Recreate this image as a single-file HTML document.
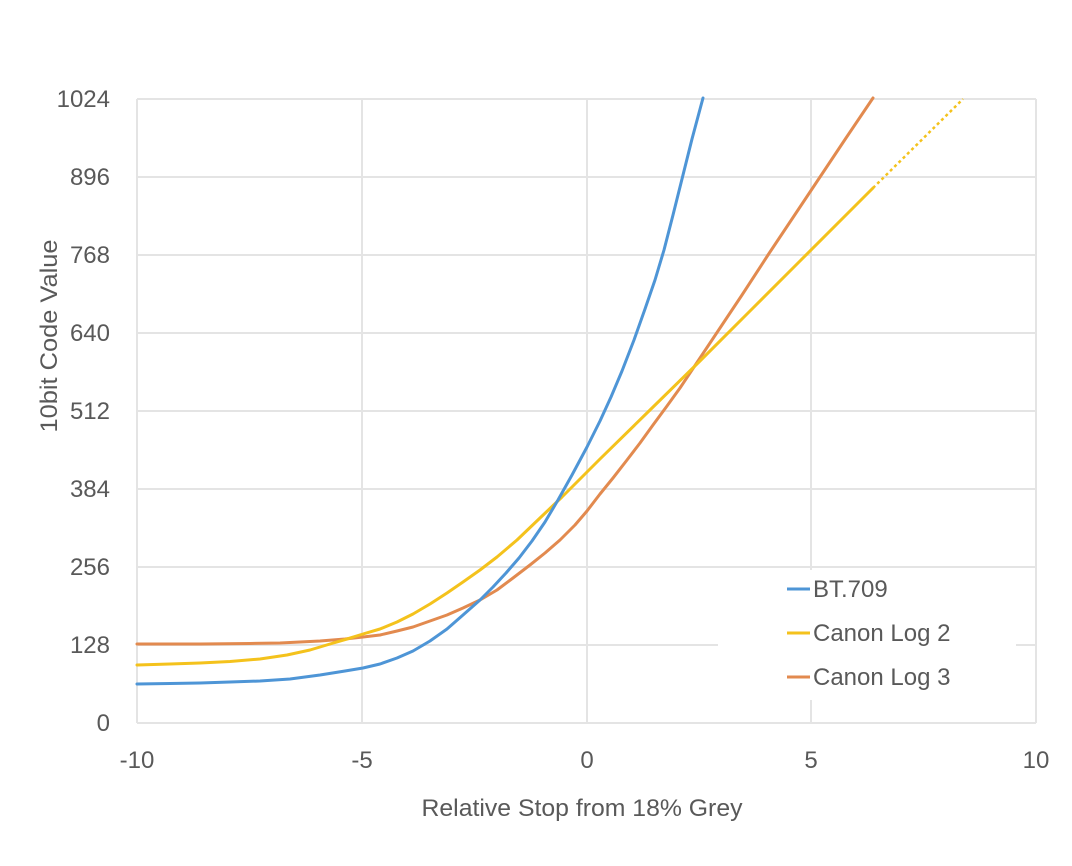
<!DOCTYPE html>
<html>
<head>
<meta charset="utf-8">
<style>
  html, body { margin: 0; padding: 0; background: #ffffff; }
  body { width: 1072px; height: 866px; overflow: hidden; }
  svg { display: block; }
  text { font-family: "Liberation Sans", "DejaVu Sans", sans-serif; fill: #595959; font-size: 24px; }
</style>
</head>
<body>
<svg width="1072" height="866" viewBox="0 0 1072 866" xmlns="http://www.w3.org/2000/svg">
  <rect x="0" y="0" width="1072" height="866" fill="#ffffff"/>

  <!-- gridlines -->
  <g stroke="#e4e4e4" stroke-width="2" fill="none">
    <line x1="137" y1="99" x2="1036" y2="99"/>
    <line x1="137" y1="177" x2="1036" y2="177"/>
    <line x1="137" y1="255" x2="1036" y2="255"/>
    <line x1="137" y1="333" x2="1036" y2="333"/>
    <line x1="137" y1="411" x2="1036" y2="411"/>
    <line x1="137" y1="489" x2="1036" y2="489"/>
    <line x1="137" y1="567" x2="1036" y2="567"/>
    <line x1="137" y1="645" x2="1036" y2="645"/>
    <line x1="137" y1="723" x2="1036" y2="723"/>
    <line x1="137" y1="99" x2="137" y2="723"/>
    <line x1="362" y1="99" x2="362" y2="723"/>
    <line x1="587" y1="99" x2="587" y2="723"/>
    <line x1="811" y1="99" x2="811" y2="723"/>
    <line x1="1036" y1="99" x2="1036" y2="723"/>
  </g>

  <!-- legend background -->
  <rect x="718" y="570" width="298" height="130" fill="#ffffff"/>

  <!-- series -->
  <g fill="none" stroke-width="3" stroke-linejoin="round" stroke-linecap="round">
    <polyline stroke="#e28a4f" points="137,644 200,644 250,643.5 280,643 320,641 345,639 363,637 380,635 397,631 413,627 430,621 447,615 463,608 480,600 497,590 513,578 530,565 545,553 560,540 575,525 587,511 600,494 613,478 627,460 640,443 653,425 667,406 680,388 690,373 716,334 742,295 768,255 794,216 820,177 846,138 873,98"/>
    <polyline stroke="#f4c21c" points="137,665 170,664 200,663 230,661.5 260,659 287,655 310,650 330,644 347,639 363,634 380,629 397,622 413,614 430,604 447,593 463,582 480,570 497,557 517,540 540,518 562,497 600,459 650,410 700,361 750,311 800,261 850,211 873,188"/>
    <line x1="873" y1="188" x2="963" y2="99" stroke="#f4c21c" stroke-width="2.5" stroke-dasharray="3 3" stroke-linecap="butt"/>
    <polyline stroke="#4e95d6" points="137,684 170,683.5 200,683 230,682 260,681 290,679 320,675 345,671 363,668 380,664 397,658 413,651 430,641 447,629 463,615 480,600 493,587 506,573 519,558 532,541 545,522 558,500 572,475 587,447 600,421 611,397 622,371 634,340 645,309 655,280 664,250 673,215 682,179 692,139 703,98"/>
  </g>

  <!-- y tick labels -->
  <g text-anchor="end">
    <text x="110" y="107">1024</text>
    <text x="110" y="185">896</text>
    <text x="110" y="263">768</text>
    <text x="110" y="341">640</text>
    <text x="110" y="419">512</text>
    <text x="110" y="497">384</text>
    <text x="110" y="575">256</text>
    <text x="110" y="653">128</text>
    <text x="110" y="731">0</text>
  </g>

  <!-- x tick labels -->
  <g text-anchor="middle">
    <text x="137" y="768">-10</text>
    <text x="362" y="768">-5</text>
    <text x="587" y="768">0</text>
    <text x="811" y="768">5</text>
    <text x="1036" y="768">10</text>
  </g>

  <!-- axis titles -->
  <text x="582" y="816" text-anchor="middle" textLength="321" lengthAdjust="spacingAndGlyphs">Relative Stop from 18% Grey</text>
  <text transform="translate(57,336) rotate(-90)" text-anchor="middle" textLength="193" lengthAdjust="spacingAndGlyphs">10bit Code Value</text>

  <!-- legend -->
  <g stroke-width="3">
    <line x1="787" y1="589" x2="810" y2="589" stroke="#4e95d6"/>
    <line x1="787" y1="633" x2="810" y2="633" stroke="#f4c21c"/>
    <line x1="787" y1="677" x2="810" y2="677" stroke="#e28a4f"/>
  </g>
  <text x="813" y="597">BT.709</text>
  <text x="813" y="641">Canon Log 2</text>
  <text x="813" y="685">Canon Log 3</text>
</svg>
</body>
</html>
